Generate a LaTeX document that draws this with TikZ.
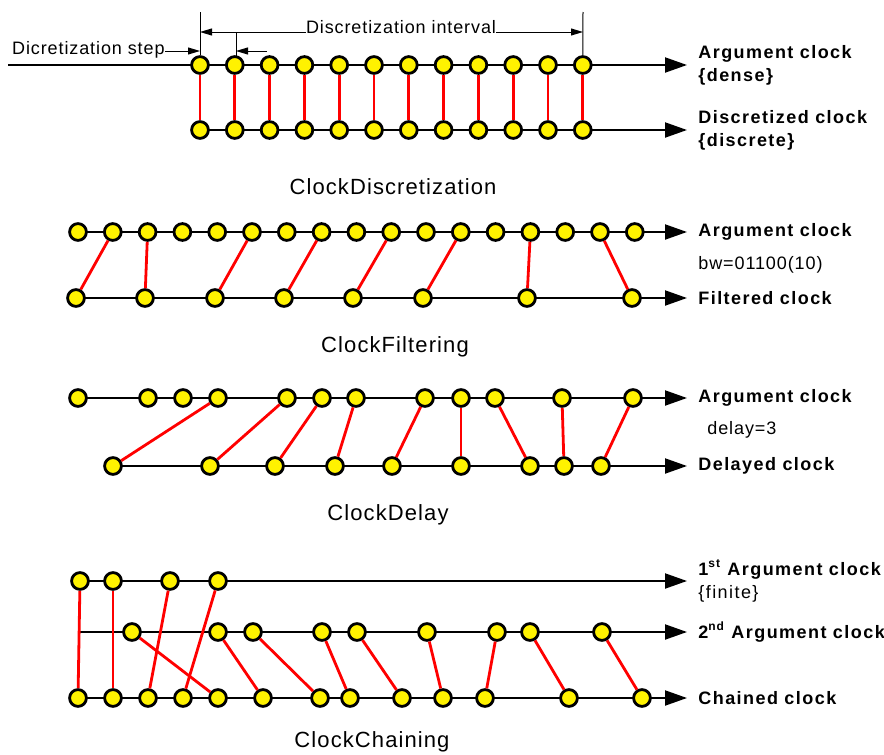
\documentclass[tikz,border=0pt]{standalone}
\usepackage{fontspec}
\setmainfont{Liberation Sans}[LetterSpace=5]
\newfontfamily\clkfont{Liberation Sans}[LetterSpace=8]
\usetikzlibrary{positioning}
\usetikzlibrary{arrows.meta}

\tikzset{
  instant/.style={circle, draw, line width=1.4pt, fill=yellow, minimum size=8.4pt, inner sep=0pt},
  axis/.style={line width=1pt, -{Triangle[length=11pt,width=7.5pt]}},
  sync/.style={red, line width=1.4pt},
  dim/.style={line width=0.5pt},
  dimarrow/.style={line width=0.5pt, -{Triangle[length=6pt,width=3.5pt]}},
  clklabel/.style={align=left, inner sep=0pt, font=\clkfont\fontsize{9}{11.5}\selectfont\bfseries},
  note/.style={anchor=west, inner sep=0pt, font=\fontsize{9}{11}\selectfont},
  caption/.style={inner sep=0pt, font=\fontsize{11}{13}\selectfont},
}

\begin{document}
\begin{tikzpicture}[x=0.5pt, y=-0.5pt]
    \useasboundingbox (0,0) rectangle (884,755);

    % Clock discretization
    \coordinate (dsa) at (8,65);   \coordinate (dea) at (687,65);
    \coordinate (dsb) at (200,130); \coordinate (deb) at (687,130);
    \draw[axis] (dsa) -- (dea);
    \draw[axis] (dsb) -- (deb);
    \foreach \i in {1,...,12} {
        \pgfmathsetmacro\x{200+(\i-1)*34.8}
        \node[instant] (da\i) at (\x,65) {};
        \node[instant] (db\i) at (\x,130) {};
        \draw[sync] (da\i) -- (db\i);
    }
    \node[clklabel, right=5.5pt of dea] {Argument clock\\\{dense\}};
    \node[clklabel, right=5.5pt of deb] {Discretized clock\\\{discrete\}};

    \coordinate (ivl) at (200,12);  \coordinate (ivr) at (583,12);
    \coordinate (ivla) at (200,32); \coordinate (ivra) at (583,32);
    \draw[dim] (ivl) -- (da1);
    \draw[dim] (ivr) -- (da12);
    \node[note, anchor=center] (ivtext) at (401,27) {Discretization interval};
    \draw[dimarrow] (ivtext.west |- ivla) -- (ivla);
    \draw[dimarrow] (ivtext.east |- ivra) -- (ivra);
    \coordinate (st1) at (236,32); \coordinate (st2) at (236,57);
    \draw[dim] (st1) -- (st2);
    \node[note, anchor=east] (steptext) at (165,50) {Dicretization step};
    \coordinate (stl) at (200,51); \coordinate (str) at (236,51); \coordinate (strr) at (267,51);
    \draw[dimarrow] (steptext.east |- stl) -- (stl);
    \draw[dimarrow] (strr) -- (str);
    \node[caption] (capd) at (393,187) {ClockDiscretization};

    % Clock filtering
    \coordinate (fsa) at (78,232); \coordinate (fea) at (687,232);
    \coordinate (fsb) at (76,298); \coordinate (feb) at (687,298);
    \draw[axis] (fsa) -- (fea);
    \draw[axis] (fsb) -- (feb);
    \foreach \i in {1,...,17} {
        \pgfmathsetmacro\x{78+(\i-1)*34.8}
        \node[instant] (fa\i) at (\x,232) {};
    }
    \foreach \j/\i/\x in {1/2/76, 2/3/145, 3/6/215, 4/8/284, 5/10/353, 6/12/423, 7/14/527, 8/16/632} {
        \node[instant] (fb\j) at (\x,298) {};
        \draw[sync] (fa\i) -- (fb\j);
    }
    \node[clklabel, right=5.5pt of fea] {Argument clock};
    \node[note] (bw) at (698,265) {bw=01100(10)};
    \node[clklabel, right=5.5pt of feb] {Filtered clock};
    \node[caption] (capf) at (395,347) {ClockFiltering};

    % Clock delay
    \coordinate (esa) at (78,398);  \coordinate (eea) at (687,398);
    \coordinate (esb) at (113,466); \coordinate (eeb) at (687,466);
    \draw[axis] (esa) -- (eea);
    \draw[axis] (esb) -- (eeb);
    \foreach \i/\x in {1/78, 2/148, 3/183, 4/218, 5/287, 6/322, 7/356, 8/425, 9/461, 10/495, 11/562, 12/633}
        \node[instant] (ea\i) at (\x,398) {};
    \foreach \j/\i/\x in {1/4/113, 2/5/210, 3/6/275, 4/7/335, 5/8/392, 6/9/461, 7/10/530, 8/11/564, 9/12/601} {
        \node[instant] (eb\j) at (\x,466) {};
        \draw[sync] (ea\i) -- (eb\j);
    }
    \node[clklabel, right=5.5pt of eea] {Argument clock};
    \node[note] (dl) at (707,430) {delay=3};
    \node[clklabel, right=5.5pt of eeb] {Delayed clock};
    \node[caption] (cape) at (388,515) {ClockDelay};

    % Clock chaining
    \coordinate (csa) at (80,581); \coordinate (cea) at (687,581);
    \coordinate (csb) at (80,632); \coordinate (ceb) at (687,632);
    \coordinate (csc) at (78,698); \coordinate (cec) at (687,698);
    \draw[axis] (csa) -- (cea);
    \draw[axis] (csb) -- (ceb);
    \draw[axis] (csc) -- (cec);
    \foreach \i/\x in {1/78, 2/113, 3/148, 4/183, 5/218, 6/263, 7/320, 8/350, 9/402, 10/443, 11/485, 12/569, 13/642}
        \node[instant] (cc\i) at (\x,698) {};
    \foreach \i/\x in {1/80, 2/113, 3/170, 4/218} {
        \node[instant] (ca\i) at (\x,581) {};
        \draw[sync] (ca\i) -- (cc\i);
    }
    \foreach \j/\i/\x in {1/5/132, 2/6/218, 3/7/253, 4/8/322, 5/9/357, 6/10/427, 7/11/497, 8/12/530, 9/13/602} {
        \node[instant] (cb\j) at (\x,632) {};
        \draw[sync] (cb\j) -- (cc\i);
    }
    \node[clklabel, right=5.5pt of cea] {1\textsuperscript{st} Argument clock\\{\mdseries\{finite\}}};
    \node[clklabel, right=5.5pt of ceb] {2\textsuperscript{nd} Argument clock};
    \node[clklabel, right=5.5pt of cec] {Chained clock};
    \node[caption] (capc) at (372,742) {ClockChaining};
\end{tikzpicture}
\end{document}
